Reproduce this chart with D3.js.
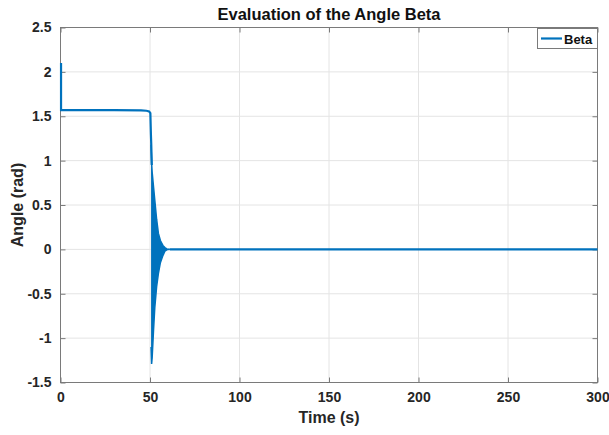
<!DOCTYPE html>
<html><head><meta charset="utf-8">
<script src="https://cdn.jsdelivr.net/npm/d3@7"></script>
<style>body{margin:0;background:#fff}svg{display:block}text{font-family:"Liberation Sans",Arial,sans-serif}</style>
</head><body><svg id="c" width="609" height="435"></svg>
<script>
// Main trace (time s, angle rad)
const lineT = [0.3, 0.3, 0.6, 10, 30, 45, 48, 49.5, 50.2, 50.5, 50.7, 51.0];
const lineV = [2.1, 1.57, 1.57, 1.57, 1.568, 1.566, 1.562, 1.555, 1.535, 1.3, 1.18, 0.95];
// Oscillation envelope (dense oscillation after t=50.5)
const envT     = [50.6, 50.9, 51.2, 52.0, 52.7, 53.7, 54.7, 55.8, 57.2, 58.3, 59.4, 61];
const envUpper = [1.18, 0.97, 0.87, 0.7, 0.55, 0.34, 0.18, 0.1, 0.045, 0.02, 0.005, 0];
const envLower = [-1.1, -1.29, -1.22, -0.9, -0.65, -0.42, -0.27, -0.15, -0.07, -0.02, -0.005, 0];
// Tail
const tailT = [61, 100, 200, 300];
const tailV = [0, 0, 0, 0];
const xTicks = [0, 50, 100, 150, 200, 250, 300];
const yTicks = [-1.5, -1, -0.5, 0, 0.5, 1, 1.5, 2, 2.5];
const seriesName = "Beta";

const svg = d3.select("#c");
const L = 60.5, R = 597.5, T = 27.5, B = 382.5;
const x = d3.scaleLinear().domain([0, 300]).range([L, R]);
const y = d3.scaleLinear().domain([-1.5, 2.5]).range([B, T]);
const col = "#0072BD";

// grid
svg.append("g").selectAll("line").data(xTicks.slice(1, -1)).join("line")
  .attr("x1", d => x(d)).attr("x2", d => x(d)).attr("y1", T).attr("y2", B)
  .attr("stroke", "#e4e4e4").attr("stroke-width", 1);
svg.append("g").selectAll("line").data(yTicks.slice(1, -1)).join("line")
  .attr("y1", d => y(d)).attr("y2", d => y(d)).attr("x1", L).attr("x2", R)
  .attr("stroke", "#e4e4e4").attr("stroke-width", 1);

// axes box + ticks
const ac = "#7a7a7a";
svg.append("rect").attr("x", L).attr("y", T).attr("width", R - L).attr("height", B - T)
  .attr("fill", "none").attr("stroke", ac).attr("stroke-width", 1);
const gx = svg.append("g").attr("transform", `translate(0,${B})`)
  .call(d3.axisBottom(x).tickValues(xTicks).tickSizeInner(-5).tickSizeOuter(0).tickPadding(10).tickFormat(d3.format("d")));
const gxt = svg.append("g").attr("transform", `translate(0,${T})`)
  .call(d3.axisTop(x).tickValues(xTicks).tickSizeInner(-5).tickSizeOuter(0).tickFormat(""));
const gy = svg.append("g").attr("transform", `translate(${L},0)`)
  .call(d3.axisLeft(y).tickValues(yTicks).tickSizeInner(-5).tickSizeOuter(0).tickPadding(9).tickFormat(d => String(d)));
const gyr = svg.append("g").attr("transform", `translate(${R},0)`)
  .call(d3.axisRight(y).tickValues(yTicks).tickSizeInner(-5).tickSizeOuter(0).tickFormat(""));
[gx, gxt, gy, gyr].forEach(g => {
  g.select(".domain").remove();
  g.selectAll("line").attr("stroke", ac);
  g.selectAll("text").attr("fill", "#262626").attr("font-size", 14).attr("font-weight", "bold")
    .attr("font-family", "'Liberation Sans', Arial, sans-serif");
});
gx.selectAll("text").attr("dy", "0.71em");

// data
const area = d3.area().x(d => x(d[0])).y0(d => y(d[2])).y1(d => y(d[1]));
svg.append("path").datum(envT.map((t, i) => [t, envUpper[i], envLower[i]]))
  .attr("d", area).attr("fill", col);
const ln = d3.line().x(d => x(d[0])).y(d => y(d[1]));
svg.append("path").datum(lineT.map((t, i) => [t, lineV[i]]))
  .attr("d", ln).attr("fill", "none").attr("stroke", col).attr("stroke-width", 2.2);
svg.append("path").datum(envT.map((t, i) => [t, envUpper[i]]))
  .attr("d", ln).attr("fill", "none").attr("stroke", col).attr("stroke-width", 1.5);
svg.append("path").datum(envT.map((t, i) => [t, envLower[i]]))
  .attr("d", ln).attr("fill", "none").attr("stroke", col).attr("stroke-width", 1.5);
svg.append("path").datum(tailT.map((t, i) => [t, tailV[i]]))
  .attr("d", ln).attr("fill", "none").attr("stroke", col).attr("stroke-width", 2.2);

// labels
svg.append("text").attr("x", (L + R) / 2).attr("y", 20).attr("text-anchor", "middle")
  .attr("font-size", 16.5).attr("font-weight", "bold").attr("fill", "#111").text("Evaluation of the Angle Beta");
svg.append("text").attr("x", (L + R) / 2).attr("y", 423).attr("text-anchor", "middle")
  .attr("font-size", 16).attr("font-weight", "bold").attr("fill", "#262626").text("Time (s)");
svg.append("text").attr("transform", `translate(23,${(T + B) / 2}) rotate(-90)`).attr("text-anchor", "middle")
  .attr("font-size", 16).attr("font-weight", "bold").attr("fill", "#262626").text("Angle (rad)");

// legend
const lg = svg.append("g");
lg.append("rect").attr("x", 537.5).attr("y", 28.5).attr("width", 60).attr("height", 20)
  .attr("fill", "#fff").attr("stroke", ac);
lg.append("line").attr("x1", 541).attr("x2", 562).attr("y1", 38.5).attr("y2", 38.5)
  .attr("stroke", col).attr("stroke-width", 2.2);
lg.append("text").attr("x", 564).attr("y", 43.5).attr("font-size", 13).attr("font-weight", "bold")
  .attr("fill", "#111").text(seriesName);
</script></body></html>
